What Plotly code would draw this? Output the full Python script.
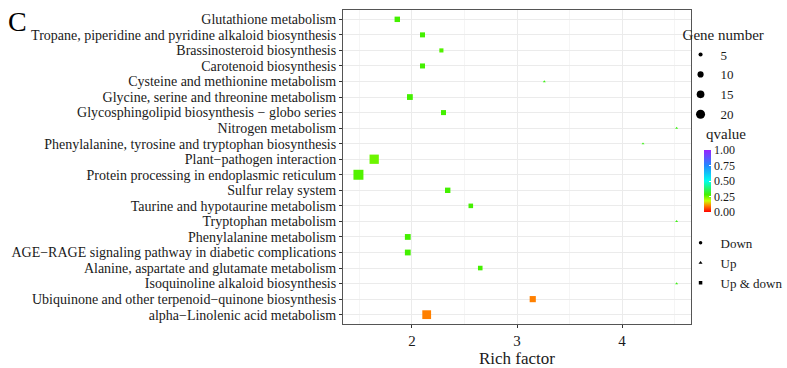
import numpy as np
import plotly.graph_objects as go

# ---------------- data ----------------
pathways = [
    "Glutathione metabolism",
    "Tropane, piperidine and pyridine alkaloid biosynthesis",
    "Brassinosteroid biosynthesis",
    "Carotenoid biosynthesis",
    "Cysteine and methionine metabolism",
    "Glycine, serine and threonine metabolism",
    "Glycosphingolipid biosynthesis \u2212 globo series",
    "Nitrogen metabolism",
    "Phenylalanine, tyrosine and tryptophan biosynthesis",
    "Plant\u2212pathogen interaction",
    "Protein processing in endoplasmic reticulum",
    "Sulfur relay system",
    "Taurine and hypotaurine metabolism",
    "Tryptophan metabolism",
    "Phenylalanine metabolism",
    "AGE\u2212RAGE signaling pathway in diabetic complications",
    "Alanine, aspartate and glutamate metabolism",
    "Isoquinoline alkaloid biosynthesis",
    "Ubiquinone and other terpenoid\u2212quinone biosynthesis",
    "alpha\u2212Linolenic acid metabolism",
]
rich_factor = [1.86, 2.10, 2.28, 2.10, 3.26, 1.98, 2.30, 4.52, 4.20, 1.64,
               1.49, 2.34, 2.56, 4.52, 1.96, 1.96, 2.65, 4.52, 3.15, 2.14]
gene_number = [8, 7, 5, 7, 1, 9, 7, 1, 1, 21,
               24, 8, 6, 1, 9, 9, 6, 1, 10, 19]
qvalue = [0.28, 0.28, 0.27, 0.28, 0.30, 0.28, 0.28, 0.30, 0.30, 0.25,
          0.27, 0.28, 0.28, 0.30, 0.28, 0.28, 0.28, 0.30, 0.10, 0.10]
change_type = ["Up & down", "Up & down", "Up & down", "Up & down", "Up",
               "Up & down", "Up & down", "Up", "Up", "Up & down",
               "Up & down", "Up & down", "Up & down", "Up", "Up & down",
               "Up & down", "Up & down", "Up", "Up & down", "Up & down"]

size_legend_values = [5, 10, 15, 20]
type_labels = ["Down", "Up", "Up & down"]
q_tickvals = [0.0, 0.25, 0.5, 0.75, 1.0]
q_ticktext = ["0.00", "0.25", "0.50", "0.75", "1.00"]
x_tickvals = [2, 3, 4]

# ---------------- styling ----------------
FONT = "Liberation Serif, Times New Roman, serif"
symbol_map = {"Down": "circle", "Up": "triangle-up", "Up & down": "square"}


def px_size(n):
    return np.maximum(2.2 * np.sqrt(np.asarray(n, dtype=float)) - 0.8, 2.6)


colorscale = [
    [0.0, "#ff0000"],
    [0.1, "#ff8000"],
    [0.18, "#ccff00"],
    [0.28, "#44f000"],
    [0.5, "#00ffee"],
    [0.75, "#2288ff"],
    [1.0, "#9922ff"],
]

fig = go.Figure()

for t in type_labels:
    idx = [i for i, c in enumerate(change_type) if c == t]
    if not idx:
        continue
    fig.add_trace(go.Scatter(
        x=[rich_factor[i] for i in idx],
        y=[pathways[i] for i in idx],
        mode="markers",
        marker=dict(
            symbol=symbol_map[t],
            size=px_size([gene_number[i] for i in idx]).tolist(),
            color=[qvalue[i] for i in idx],
            coloraxis="coloraxis",
            opacity=1,
            line=dict(width=0),
        ),
        showlegend=False,
        hoverinfo="x+y",
    ))

# size legend
for v in size_legend_values:
    fig.add_trace(go.Scatter(
        x=[None], y=[None], mode="markers",
        marker=dict(symbol="circle", size=float(px_size(v)), color="black", opacity=1),
        name=str(v), legend="legend", showlegend=True,
    ))

# shape legend
for t in type_labels:
    fig.add_trace(go.Scatter(
        x=[None], y=[None], mode="markers",
        marker=dict(symbol=symbol_map[t], size=3.5, color="black", opacity=1),
        name=t, legend="legend2", showlegend=True,
    ))

fig.update_layout(
    width=787, height=368, autosize=False,
    margin=dict(l=343, r=96, t=10, b=44, pad=0, autoexpand=False),
    paper_bgcolor="white", plot_bgcolor="white",
    font=dict(family=FONT, size=14, color="#1a1a1a"),
    xaxis=dict(
        range=[1.343, 4.657],
        tickvals=x_tickvals,
        ticks="outside", ticklen=3, tickcolor="#333333",
        tickfont=dict(size=15, color="#1a1a1a"),
        showgrid=True, gridcolor="#ebebeb", gridwidth=1,
        minor=dict(dtick=0.5, tick0=1.5, showgrid=True, gridcolor="#f5f5f5", gridwidth=1),
        showline=True, linecolor="#555555", linewidth=1, mirror=True,
        zeroline=False,
    ),
    yaxis=dict(
        categoryorder="array", categoryarray=pathways,
        tickmode="array", tickvals=pathways, ticktext=pathways,
        range=[len(pathways) - 0.4, -0.6],
        ticks="outside", ticklen=3, tickcolor="#333333",
        tickfont=dict(size=14, color="#1a1a1a"),
        showgrid=True, gridcolor="#ebebeb", gridwidth=1,
        showline=True, linecolor="#555555", linewidth=1, mirror=True,
        zeroline=False,
    ),
    coloraxis=dict(
        cmin=0, cmax=1, colorscale=colorscale,
        colorbar=dict(
            thickness=7, len=62, lenmode="pixels",
            x=1.037, xanchor="left", xpad=0,
            y=0.455, yanchor="middle", ypad=0,
            tickvals=q_tickvals, ticktext=q_ticktext,
            ticks="inside", tickcolor="white", ticklen=2,
            tickfont=dict(size=12, family=FONT),
            outlinewidth=0,
        ),
    ),
    legend=dict(
        title=dict(text="Gene number", font=dict(size=15, family=FONT)),
        x=0.97, xanchor="left", y=0.968, yanchor="top",
        bgcolor="rgba(0,0,0,0)", tracegroupgap=0,
        font=dict(size=13, family=FONT),
        itemwidth=30,
    ),
    legend2=dict(
        x=0.97, xanchor="left", y=0.306, yanchor="top",
        bgcolor="rgba(0,0,0,0)", tracegroupgap=0,
        font=dict(size=13, family=FONT),
        itemwidth=30,
    ),
    annotations=[
        dict(text="C", xref="paper", yref="paper", x=-0.934, y=0.962,
             xanchor="center", yanchor="middle", showarrow=False,
             font=dict(size=28, family=FONT, color="black")),
        dict(text="qvalue", xref="paper", yref="paper", x=1.037, y=0.605,
             xanchor="left", yanchor="middle", showarrow=False,
             font=dict(size=15, family=FONT, color="#1a1a1a")),
        dict(text="Rich factor", xref="paper", yref="paper", x=0.5, y=-0.111,
             xanchor="center", yanchor="middle", showarrow=False,
             font=dict(size=17, family=FONT, color="#1a1a1a")),
    ],
)

fig.write_html("out.html")
